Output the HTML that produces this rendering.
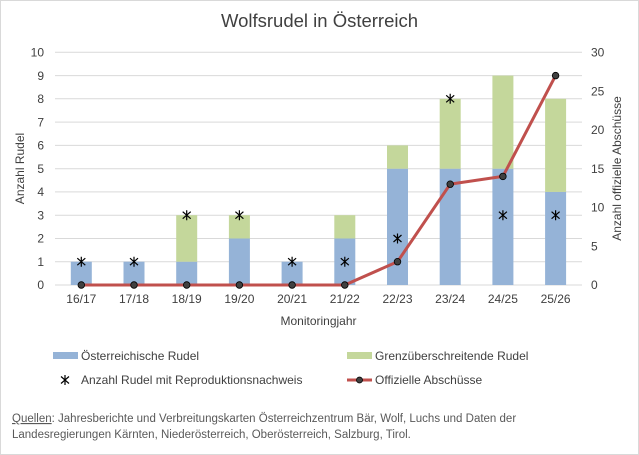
<!DOCTYPE html><html><head><meta charset="utf-8"><style>body{margin:0;background:#fff}svg{display:block;font-family:"Liberation Sans",sans-serif}</style></head><body>
<svg width="639" height="455" viewBox="0 0 639 455">
<rect x="0.5" y="0.5" width="638" height="454" fill="#fff" stroke="#d9d9d9"/>
<text x="319.5" y="27" font-size="18.5" text-anchor="middle" fill="#404040">Wolfsrudel in Österreich</text>
<g stroke="#d9d9d9" stroke-width="1">
<line x1="55" x2="582" y1="52.3" y2="52.3"/><line x1="55" x2="582" y1="75.6" y2="75.6"/><line x1="55" x2="582" y1="98.8" y2="98.8"/><line x1="55" x2="582" y1="122.1" y2="122.1"/><line x1="55" x2="582" y1="145.4" y2="145.4"/><line x1="55" x2="582" y1="168.7" y2="168.7"/><line x1="55" x2="582" y1="191.9" y2="191.9"/><line x1="55" x2="582" y1="215.2" y2="215.2"/><line x1="55" x2="582" y1="238.5" y2="238.5"/><line x1="55" x2="582" y1="261.7" y2="261.7"/><line x1="55" x2="582" y1="285" y2="285"/>
</g>
<g fill="#95b3d7">
<rect x="70.8" y="261.7" width="21" height="23.3"/><rect x="123.5" y="261.7" width="21" height="23.3"/><rect x="176.2" y="261.7" width="21" height="23.3"/><rect x="228.9" y="238.5" width="21" height="46.5"/><rect x="281.6" y="261.7" width="21" height="23.3"/><rect x="334.3" y="238.5" width="21" height="46.5"/><rect x="387" y="168.7" width="21" height="116.3"/><rect x="439.7" y="168.7" width="21" height="116.3"/><rect x="492.4" y="168.7" width="21" height="116.3"/><rect x="545.1" y="191.9" width="21" height="93.1"/>
</g>
<g fill="#c4d79b">
<rect x="176.2" y="215.2" width="21" height="46.5"/><rect x="228.9" y="215.2" width="21" height="23.3"/><rect x="334.3" y="215.2" width="21" height="23.3"/><rect x="387" y="145.4" width="21" height="23.3"/><rect x="439.7" y="98.8" width="21" height="69.9"/><rect x="492.4" y="75.6" width="21" height="93.1"/><rect x="545.1" y="98.8" width="21" height="93.1"/>
</g>
<polyline points="81.3,285 134,285 186.7,285 239.4,285 292.1,285 344.8,285 397.5,261.7 450.2,184.2 502.9,176.4 555.6,75.6" fill="none" stroke="#c0504d" stroke-width="3"/>
<g fill="#404040" stroke="#000" stroke-width="0.8">
<circle cx="81.3" cy="285" r="3.3"/><circle cx="134" cy="285" r="3.3"/><circle cx="186.7" cy="285" r="3.3"/><circle cx="239.4" cy="285" r="3.3"/><circle cx="292.1" cy="285" r="3.3"/><circle cx="344.8" cy="285" r="3.3"/><circle cx="397.5" cy="261.7" r="3.3"/><circle cx="450.2" cy="184.2" r="3.3"/><circle cx="502.9" cy="176.4" r="3.3"/><circle cx="555.6" cy="75.6" r="3.3"/>
</g>
<defs><path id="a" d="M-4,-3.5L4,3.5M4,-3.5L-4,3.5M0,-5L0,5" stroke="#000" stroke-width="1.2" fill="none"/></defs>
<use href="#a" x="81.3" y="261.7"/><use href="#a" x="134" y="261.7"/><use href="#a" x="186.7" y="215.2"/><use href="#a" x="239.4" y="215.2"/><use href="#a" x="292.1" y="261.7"/><use href="#a" x="344.8" y="261.7"/><use href="#a" x="397.5" y="238.5"/><use href="#a" x="450.2" y="98.8"/><use href="#a" x="502.9" y="215.2"/><use href="#a" x="555.6" y="215.2"/>
<g font-size="12" fill="#404040" text-anchor="end">
<text x="44" y="56.5">10</text><text x="44" y="79.8">9</text><text x="44" y="103">8</text><text x="44" y="126.3">7</text><text x="44" y="149.6">6</text><text x="44" y="172.9">5</text><text x="44" y="196.1">4</text><text x="44" y="219.4">3</text><text x="44" y="242.7">2</text><text x="44" y="265.9">1</text><text x="44" y="289.2">0</text>
</g>
<g font-size="12" fill="#404040" text-anchor="start">
<text x="591" y="56.5">30</text><text x="591" y="95.3">25</text><text x="591" y="134.1">20</text><text x="591" y="172.9">15</text><text x="591" y="211.6">10</text><text x="591" y="250.4">5</text><text x="591" y="289.2">0</text>
</g>
<g font-size="12" fill="#404040" text-anchor="middle">
<text x="81.3" y="303">16/17</text><text x="134" y="303">17/18</text><text x="186.7" y="303">18/19</text><text x="239.4" y="303">19/20</text><text x="292.1" y="303">20/21</text><text x="344.8" y="303">21/22</text><text x="397.5" y="303">22/23</text><text x="450.2" y="303">23/24</text><text x="502.9" y="303">24/25</text><text x="555.6" y="303">25/26</text>
<text x="318.5" y="325">Monitoringjahr</text>
<text transform="translate(24,168.5) rotate(-90)">Anzahl Rudel</text>
<text transform="translate(621,168.5) rotate(-90)">Anzahl offizielle Abschüsse</text>
</g>
<g font-size="12" fill="#404040">
<rect x="53" y="352" width="25" height="7" fill="#95b3d7"/><text x="81" y="360">Österreichische Rudel</text>
<rect x="347" y="352" width="25" height="7" fill="#c4d79b"/><text x="375" y="360">Grenzüberschreitende Rudel</text>
<use href="#a" x="65" y="380"/><text x="81" y="384">Anzahl Rudel mit Reproduktionsnachweis</text>
<line x1="347" x2="372" y1="380" y2="380" stroke="#c0504d" stroke-width="3"/><circle cx="359.5" cy="380" r="3" fill="#404040" stroke="#000" stroke-width="0.8"/><text x="375" y="384">Offizielle Abschüsse</text>
</g>
<g font-size="11.5" fill="#595959">
<text x="12" y="422"><tspan text-decoration="underline">Quellen</tspan>: Jahresberichte und Verbreitungskarten Österreichzentrum Bär, Wolf, Luchs und Daten der</text>
<text x="12" y="438">Landesregierungen Kärnten, Niederösterreich, Oberösterreich, Salzburg, Tirol.</text>
</g>
</svg>
</body></html>
